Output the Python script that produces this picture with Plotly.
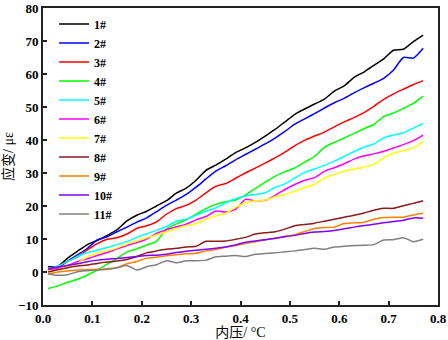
import plotly.graph_objects as go

x_vals = [0.01, 0.03, 0.05, 0.07, 0.09, 0.11, 0.13, 0.15, 0.17, 0.19,
          0.21, 0.23, 0.25, 0.27, 0.29, 0.31, 0.33, 0.35, 0.37, 0.39,
          0.41, 0.43, 0.45, 0.47, 0.49, 0.51, 0.53, 0.55, 0.57, 0.59,
          0.61, 0.63, 0.65, 0.67, 0.69, 0.71, 0.73, 0.75, 0.77]

s1 = [1.6, 1.7, 4.2, 6.3, 8.3, 9.6, 11.1, 12.8, 15.5, 17.2,
      18.4, 20.0, 21.6, 23.9, 25.4, 27.8, 30.8, 32.4, 34.2, 36.2,
      37.6, 39.3, 41.2, 43.2, 45.5, 47.8, 49.4, 50.9, 52.4, 54.8,
      56.4, 59.0, 60.6, 62.6, 64.6, 67.2, 67.5, 69.8, 71.8]
s2 = [0.3, 1.3, 3.3, 5.2, 7.2, 9.7, 10.7, 12.2, 13.6, 15.1,
      16.4, 18.3, 20.2, 21.8, 23.5, 25.7, 28.2, 30.6, 32.2, 34.0,
      35.6, 37.2, 38.8, 40.6, 42.6, 44.8, 46.4, 48.0, 49.7, 51.3,
      52.6, 54.3, 55.8, 57.2, 58.7, 61.2, 65.0, 64.8, 67.8]
s3 = [0.4, 1.5, 3.2, 4.6, 6.7, 8.6, 9.9, 10.4, 11.5, 13.2,
      14.0, 15.2, 17.5, 19.2, 20.2, 21.8, 24.0, 26.0, 26.8, 28.4,
      30.0, 31.5, 33.0, 34.6, 36.3, 38.3, 39.9, 41.2, 42.4, 44.0,
      45.5, 46.8, 48.3, 50.2, 52.3, 54.0, 55.4, 56.8, 58.0]
s4 = [-5.0, -4.2, -3.1, -2.2, -0.9, 0.6, 2.4, 4.1, 6.1, 7.0,
      8.2, 9.3, 13.0, 14.6, 15.8, 17.5, 19.2, 20.5, 21.3, 21.8,
      23.3, 25.3, 27.2, 29.0, 30.4, 31.5, 33.3, 35.0, 37.8, 39.3,
      40.6, 42.0, 43.4, 44.7, 47.1, 48.2, 49.6, 51.1, 53.3]
s5 = [1.0, 1.8, 3.2, 4.7, 5.9, 6.6, 7.4, 8.3, 9.2, 10.5,
      11.6, 12.6, 13.8, 15.4, 16.0, 17.2, 18.4, 19.4, 21.0, 22.2,
      23.0, 23.5, 24.0, 25.6, 26.7, 28.5, 30.2, 31.2, 32.3, 33.6,
      35.0, 36.5, 37.8, 38.8, 40.6, 41.5, 42.2, 43.6, 45.0]
s6 = [0.5, 1.2, 2.0, 3.1, 4.0, 5.0, 5.9, 7.0, 8.0, 8.9,
      10.0, 11.7, 12.8, 13.7, 14.5, 15.8, 16.8, 18.5, 18.2, 19.0,
      22.0, 21.6, 21.7, 23.2, 25.0, 26.5, 27.8, 28.6, 30.5, 31.6,
      32.8, 34.2, 35.2, 35.8, 36.6, 37.6, 38.6, 39.8, 41.5]
s7 = [0.3, 0.7, 1.5, 2.6, 4.6, 5.7, 6.4, 7.3, 8.5, 9.4,
      10.4, 11.2, 12.2, 13.2, 14.0, 14.7, 16.0, 17.0, 17.8, 19.6,
      21.0, 21.6, 21.8, 22.8, 23.5, 24.5, 25.6, 26.5, 28.5, 29.5,
      30.6, 31.2, 31.8, 32.6, 34.6, 36.0, 36.8, 37.6, 39.5]
s8 = [0.0, 0.7, 1.3, 1.8, 2.1, 2.6, 3.0, 3.3, 3.8, 4.7,
      5.8, 6.4, 6.9, 7.2, 7.6, 7.8, 9.3, 9.3, 9.4, 9.9,
      10.5, 11.5, 11.9, 12.2, 13.0, 14.0, 14.4, 14.8, 15.4, 16.0,
      16.6, 17.2, 17.9, 18.7, 19.3, 19.3, 20.1, 20.8, 21.6]
s9 = [-0.6, 0.0, 0.3, 0.6, 0.7, 0.8, 1.0, 1.3, 2.5, 3.2,
      4.2, 4.5, 4.9, 5.2, 5.5, 5.7, 6.4, 6.8, 7.5, 8.0,
      8.6, 9.2, 9.8, 10.2, 10.8, 11.3, 12.3, 13.2, 13.5, 13.6,
      14.7, 14.9, 15.1, 16.0, 16.5, 16.6, 16.6, 17.3, 17.8]
s10 = [1.0, 1.5, 2.0, 2.5, 3.1, 3.6, 3.9, 4.1, 4.4, 4.7,
       5.0, 5.1, 5.4, 5.9, 6.3, 6.6, 6.9, 7.2, 7.6, 8.2,
       9.0, 9.4, 9.8, 10.2, 10.7, 11.1, 11.7, 12.1, 12.3, 12.6,
       13.1, 13.6, 14.1, 14.5, 14.9, 15.3, 15.7, 16.4, 16.3]
s11 = [-0.5, -1.0, -0.8, 0.1, 0.4, 0.6, 0.8, 1.3, 2.0, 0.6,
       1.6, 2.2, 3.4, 2.8, 3.4, 3.4, 3.6, 4.6, 4.8, 5.0,
       4.7, 5.4, 5.6, 5.8, 6.1, 6.4, 6.8, 7.2, 6.9, 7.6,
       7.8, 8.0, 8.1, 8.3, 9.7, 9.8, 10.4, 9.2, 9.9]

names = ["1#", "2#", "3#", "4#", "5#", "6#", "7#", "8#", "9#", "10#", "11#"]
series = [s1, s2, s3, s4, s5, s6, s7, s8, s9, s10, s11]
colors = ["#000000", "#0000FF", "#FF0000", "#00FF00", "#00FFFF", "#FF00FF",
          "#FFFF00", "#8B1A1A", "#FF8000", "#8000FF", "#808080"]

x_ticks = [0.0, 0.1, 0.2, 0.3, 0.4, 0.5, 0.6, 0.7, 0.8]
y_ticks = [-10, 0, 10, 20, 30, 40, 50, 60, 70, 80]

font_fam = "Liberation Serif, Times New Roman, Noto Sans CJK SC, serif"

fig = go.Figure()
for n, s, c in zip(names, series, colors):
    fig.add_trace(go.Scatter(x=x_vals, y=s, name=n, mode="lines",
                             line=dict(color=c, width=1.5, shape="spline", smoothing=0.6)))

axis_common = dict(showgrid=False, zeroline=False, showline=True, linecolor="#222222",
                   linewidth=2, mirror=True, ticks="inside", ticklen=4, tickwidth=1.5,
                   tickcolor="#222222", automargin=False,
                   tickfont=dict(family=font_fam, size=13, color="#000000", weight="bold"))

fig.update_xaxes(range=[0, 0.8], tickvals=x_ticks, tickformat=".1f",
                 title=dict(text="内压/ °C", font=dict(family=font_fam, size=14, color="#000000")),
                 **axis_common)
fig.update_yaxes(range=[-10, 80], tickvals=y_ticks,
                 title=dict(text="应变/ με", font=dict(family=font_fam, size=14, color="#000000")),
                 **axis_common)

fig.update_layout(
    width=448, height=340,
    margin=dict(l=43, r=10, t=8, b=35),
    plot_bgcolor="white", paper_bgcolor="white",
    showlegend=True,
    legend=dict(x=0.028, y=0.995, xanchor="left", yanchor="top",
                bgcolor="rgba(0,0,0,0)", borderwidth=0,
                font=dict(family=font_fam, size=12, color="#000000", weight="bold"),
                tracegroupgap=0, itemwidth=30),
)

fig.write_html("out.html", config={"displayModeBar": False},
               post_script="document.body.style.margin='0px';")
